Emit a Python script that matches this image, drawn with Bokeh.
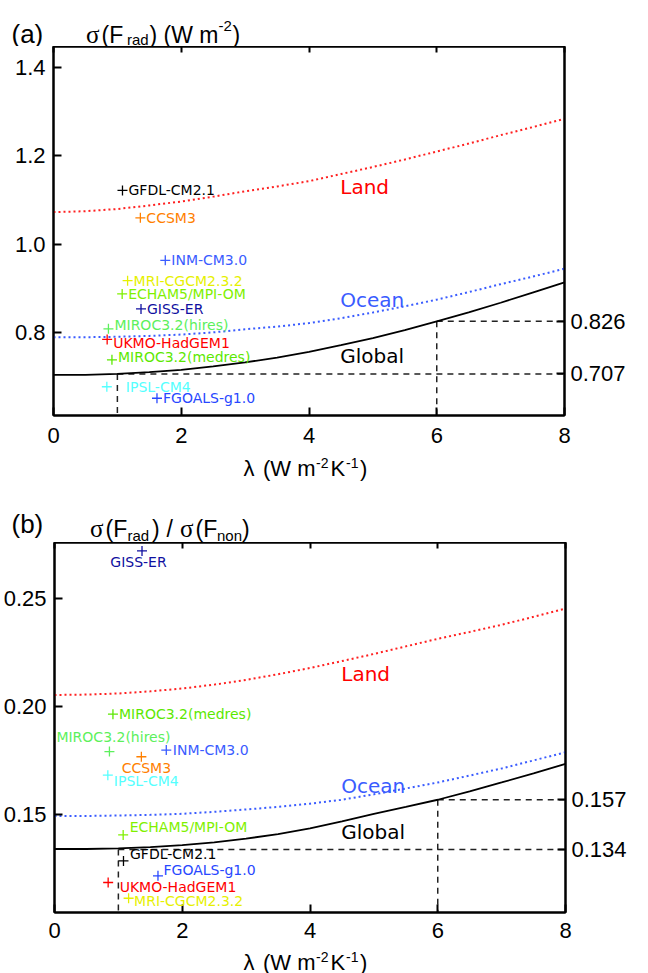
from bokeh.plotting import figure
from bokeh.models import Range1d, LinearAxis, FixedTicker, PrintfTickFormatter, Label
from bokeh.layouts import column
from bokeh.embed import file_html
from bokeh.resources import INLINE

# ---------------- data ----------------
lam_grid = [0, 0.5, 1, 1.5, 2, 2.5, 3, 3.5, 4, 4.5, 5, 5.5, 6, 6.5, 7, 7.5, 8]

# panel (a): sigma(F_rad)  (W m-2)
global_a = [0.705, 0.705, 0.707, 0.711, 0.716, 0.724, 0.733, 0.744, 0.757,
            0.772, 0.788, 0.806, 0.826, 0.846, 0.868, 0.891, 0.914]
ocean_a = [0.790, 0.790, 0.791, 0.793, 0.796, 0.801, 0.808, 0.814, 0.822,
           0.833, 0.846, 0.860, 0.875, 0.892, 0.910, 0.927, 0.945]
land_a = [1.073, 1.075, 1.080, 1.088, 1.097, 1.108, 1.120, 1.131, 1.143,
          1.159, 1.175, 1.192, 1.210, 1.228, 1.247, 1.265, 1.284]

# panel (b): sigma(F_rad) / sigma(F_non)
global_b = [0.1342, 0.1342, 0.1345, 0.1351, 0.1360, 0.1373, 0.1390, 0.1411, 0.1437,
            0.1470, 0.1505, 0.1537, 0.1570, 0.1609, 0.1650, 0.1692, 0.1736]
ocean_b = [0.1495, 0.1495, 0.1497, 0.1500, 0.1505, 0.1514, 0.1525, 0.1537, 0.1552,
           0.1570, 0.1595, 0.1622, 0.1650, 0.1682, 0.1715, 0.1752, 0.1790]
land_b = [0.2055, 0.2057, 0.2062, 0.2072, 0.2085, 0.2103, 0.2125, 0.2151, 0.2180,
          0.2212, 0.2245, 0.2280, 0.2315, 0.2347, 0.2380, 0.2417, 0.2455]

models = ["GFDL-CM2.1", "CCSM3", "INM-CM3.0", "MRI-CGCM2.3.2", "ECHAM5/MPI-OM",
          "GISS-ER", "MIROC3.2(hires)", "UKMO-HadGEM1", "MIROC3.2(medres)",
          "IPSL-CM4", "FGOALS-g1.0"]
model_lam = [1.08, 1.36, 1.75, 1.16, 1.075, 1.37, 0.86, 0.84, 0.915, 0.835, 1.62]
model_val_a = [1.122, 1.060, 0.964, 0.918, 0.888, 0.854, 0.809, 0.785, 0.739, 0.678, 0.652]
model_val_b = [0.1287, 0.1769, 0.1800, 0.1114, 0.1407, 0.2722, 0.1793, 0.1187, 0.1966, 0.1684, 0.1218]
model_colors = ["#000000", "#ff8000", "#3a5cff", "#e6f000", "#80f000",
                "#1010a0", "#5cf05c", "#ff0000", "#5ce800", "#55ffff", "#2848ff"]

ref_lam = [1, 6]
ref_a = [0.707, 0.826]
ref_b = [0.134, 0.157]

# label placement (style): (dx px, dy px, align)
lab_a = [(6, 0, "left"), (6, 0, "left"), (6, 0, "left"), (6, 0, "left"), (6, 0, "left"),
         (6, 0, "left"), (6, 4, "left"), (6, -4, "left"), (6, 3, "left"), (19, 0, "left"),
         (6, 0, "left")]
lab_b = [(6.5, 7, "left"), (5, -11, "center"), (6.5, 0, "left"), (5.5, -3, "left"),
         (6.5, 8, "left"), (-3.5, -11, "center"), (4, 15, "center"), (11.5, -4.5, "left"),
         (6, 0, "left"), (6, -6, "left"), (5.5, 6, "left")]

SANS = "Liberation Sans"
SERIF = "Liberation Serif"
MFONT = "DejaVu Sans"
PAGE_W = 648
BASE_SHIFT = 0.26  # rendered text sits this many em below its anchor


def style_axis(ax, ticks, fmt=None):
    ax.ticker = FixedTicker(ticks=ticks)
    if fmt:
        ax.formatter = PrintfTickFormatter(format=fmt)
    ax.axis_line_width = 2
    ax.axis_line_color = "black"
    ax.major_tick_line_width = 2
    ax.major_tick_line_color = "black"
    ax.major_tick_in = 8
    ax.major_tick_out = 0
    ax.minor_tick_line_color = None
    ax.major_label_text_font = SANS
    ax.major_label_text_font_size = "22px"
    ax.major_label_text_color = "black"


def make_panel(y0, y1, yticks, yfmt, rticks, rfmt, glob, ocean, land, mvals, labs,
               refv, border_bottom, standoff, frame_h, word_y):
    p = figure(frame_width=511, frame_height=frame_h, x_range=Range1d(0, 8),
               y_range=Range1d(y0, y1), output_backend="svg", toolbar_location=None,
               min_border_left=53, min_border_right=84, min_border_top=0,
               min_border_bottom=border_bottom, background_fill_color="white",
               border_fill_color="white", frame_align=False)
    p.grid.visible = False
    p.outline_line_color = "black"
    p.outline_line_width = 2
    style_axis(p.xaxis[0], [0, 2, 4, 6, 8])
    p.xaxis[0].major_label_standoff = standoff
    style_axis(p.yaxis[0], yticks, yfmt)
    p.yaxis[0].major_label_standoff = 8
    top = LinearAxis()
    style_axis(top, [0, 2, 4, 6, 8])
    top.major_tick_in = 6
    top.major_label_text_font_size = "0px"
    top.major_label_standoff = 0
    top.major_label_overrides = {0: "", 2: "", 4: "", 6: "", 8: ""}
    p.add_layout(top, "above")
    right = LinearAxis()
    style_axis(right, rticks, rfmt)
    right.major_label_standoff = 6
    p.add_layout(right, "right")

    # reference dashed lines
    p.segment(x0=ref_lam, y0=refv, x1=[8] * len(ref_lam), y1=refv,
              line_color="#222222", line_width=1.5, line_dash="6 5")
    p.segment(x0=ref_lam, y0=refv, x1=ref_lam, y1=[y0] * len(ref_lam),
              line_color="#222222", line_width=1.5, line_dash="6 5")

    p.line(lam_grid, land, line_color="#ff2020", line_width=2, line_dash="2 3")
    p.line(lam_grid, ocean, line_color="#3a5cff", line_width=2, line_dash="2 3")
    p.line(lam_grid, glob, line_color="black", line_width=1.8)

    p.scatter(model_lam, mvals, marker="cross", size=10, line_width=1.3,
              color=model_colors)
    for name, lx, ly, col, (dx, dy, al) in zip(models, model_lam, mvals, model_colors, labs):
        p.add_layout(Label(x=lx, y=ly, x_offset=dx, y_offset=dy, text=name,
                           text_font=MFONT, text_font_size="14px", text_color=col,
                           text_align=al, text_baseline="middle"))
    for txt, yv, col in zip(["Land", "Ocean", "Global"], word_y,
                            ["#ff0000", "#3a5cff", "black"]):
        p.add_layout(Label(x=4.49, y=yv, y_offset=BASE_SHIFT * 20, text=txt,
                           text_font=MFONT, text_font_size="20px", text_color=col,
                           text_baseline="alphabetic"))
    return p


def strip(page_top, h, pieces):
    """A text-only band; its data units are page pixels (y downward)."""
    s = figure(width=PAGE_W, height=h, x_range=Range1d(0, PAGE_W),
               y_range=Range1d(page_top + h, page_top), output_backend="svg",
               toolbar_location=None, min_border=0, x_axis_type=None,
               y_axis_type=None, outline_line_color=None,
               background_fill_color="white", border_fill_color="white",
               frame_align=False)
    s.grid.visible = False
    for txt, px, py, size, font in pieces:
        s.add_layout(Label(x=px, y=py - BASE_SHIFT * size, text=txt, text_font=font,
                           text_font_size=f"{size}px", text_color="black",
                           text_align="left", text_baseline="alphabetic"))
    return s


def xtitle(base):
    sup = base - 7.5
    return [("\u03bb", 243, base, 22, SANS), ("(W m", 262.5, base, 22, SANS),
            ("-2", 315.5, sup, 14, SANS), ("K", 330, base, 22, SANS),
            ("-1", 345.5, sup, 14, SANS), (")", 359.5, base, 22, SANS)]


# ---------------- layout bands (page pixels) ----------------
sA = strip(0, 46, [
    ("(a)", 11, 40.5, 26, SANS),
    ("\u03c3", 85.5, 40.5, 25, SERIF),
    ("(F", 101, 40.5, 23, SANS),
    ("rad", 126.5, 42.8, 15, SANS),
    (") (W m", 149, 40.5, 23, SANS),
    ("-2", 218, 29.5, 15, SANS),
    (")", 232, 40.5, 23, SANS),
])

p1 = make_panel(0.613, 1.4475, [0.8, 1.0, 1.2, 1.4], "%.1f", ref_a, "%.3f",
                global_a, ocean_a, land_a, model_val_a, lab_a, ref_a,
                38, 12, 369, [1.118, 0.862, 0.735])

sM = strip(453, 89, xtitle(473.5) + [
    ("(b)", 11, 530, 26, SANS),
    ("\u03c3", 89.5, 534, 25, SERIF),
    ("(F", 105, 534, 23, SANS),
    ("rad", 127, 538.5, 15, SANS),
    (")", 151.5, 534, 23, SANS),
    ("/", 166, 534, 23, SANS),
    ("\u03c3", 179.5, 534, 25, SERIF),
    ("(F", 195, 534, 23, SANS),
    ("non", 216.5, 538.5, 15, SANS),
    (")", 241.5, 534, 23, SANS),
])

p2 = make_panel(0.1048, 0.2761, [0.15, 0.20, 0.25], "%.2f", ref_b, "%.3f",
                global_b, ocean_b, land_b, model_val_b, lab_b, ref_b,
                36, 10, 370, [0.213, 0.1611, 0.1398])

sB = strip(948, 25, xtitle(968))

layout = column(sA, p1, sM, p2, sB)
open("out.html", "w").write(file_html(layout, INLINE))
